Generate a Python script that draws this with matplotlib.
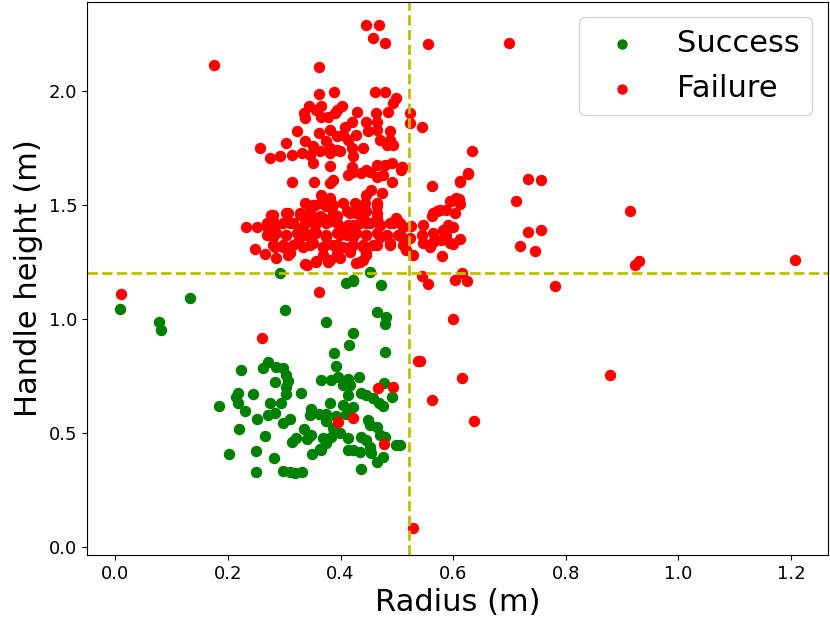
import numpy as np
import matplotlib
matplotlib.use('Agg')
import matplotlib.pyplot as plt

# thresholds drawn as dashed guide lines
RADIUS_LIMIT = 0.522
HEIGHT_LIMIT = 1.20

# (radius, handle height)
success_points = [
    (0.008, 1.042), (0.077, 0.988), (0.081, 0.950), (0.132, 1.091),
    (0.292, 1.200), (0.453, 1.207), (0.422, 1.171), (0.410, 1.157), (0.422, 1.167),
    (0.472, 1.149), (0.302, 1.040), (0.374, 0.985), (0.464, 1.032), (0.480, 1.006),
    (0.479, 0.977), (0.422, 0.937), (0.415, 0.886), (0.389, 0.852), (0.479, 0.855),
    (0.392, 0.795), (0.223, 0.776), (0.271, 0.813), (0.263, 0.786), (0.286, 0.791),
    (0.298, 0.784), (0.304, 0.754), (0.307, 0.728), (0.283, 0.725), (0.303, 0.700),
    (0.303, 0.671), (0.295, 0.630), (0.274, 0.630), (0.271, 0.579), (0.283, 0.586),
    (0.329, 0.674), (0.218, 0.674), (0.215, 0.659), (0.218, 0.630), (0.230, 0.596),
    (0.244, 0.671), (0.184, 0.618), (0.252, 0.560), (0.220, 0.519), (0.297, 0.545),
    (0.310, 0.561), (0.266, 0.487), (0.202, 0.409), (0.250, 0.421), (0.282, 0.389),
    (0.250, 0.328), (0.298, 0.333), (0.310, 0.328), (0.319, 0.326), (0.331, 0.328),
    (0.313, 0.462), (0.321, 0.477), (0.335, 0.516), (0.340, 0.472), (0.347, 0.491),
    (0.350, 0.408), (0.364, 0.428), (0.347, 0.604), (0.345, 0.579), (0.366, 0.732),
    (0.384, 0.732), (0.396, 0.744), (0.413, 0.735), (0.433, 0.744), (0.405, 0.711),
    (0.417, 0.711), (0.413, 0.667), (0.437, 0.674), (0.446, 0.667), (0.458, 0.652),
    (0.381, 0.630), (0.405, 0.623), (0.422, 0.613), (0.409, 0.583), (0.362, 0.583),
    (0.375, 0.583), (0.392, 0.575), (0.375, 0.550), (0.468, 0.630), (0.476, 0.618),
    (0.492, 0.659), (0.448, 0.557), (0.452, 0.535), (0.464, 0.528), (0.470, 0.491),
    (0.479, 0.484), (0.387, 0.521), (0.399, 0.499), (0.384, 0.484), (0.369, 0.477),
    (0.375, 0.455), (0.366, 0.425), (0.413, 0.477), (0.413, 0.425), (0.422, 0.425),
    (0.434, 0.418), (0.437, 0.484), (0.446, 0.469), (0.452, 0.440), (0.455, 0.414),
    (0.464, 0.374), (0.476, 0.396), (0.499, 0.447), (0.436, 0.342), (0.478, 0.718),
    (0.505, 0.447),
]

failure_points = [
    # outliers
    (0.011, 1.110), (0.175, 2.114), (0.362, 1.120), (0.261, 0.918), (0.538, 0.817),
    (0.467, 0.696), (0.493, 0.703), (0.422, 0.564), (0.396, 0.547), (0.477, 0.450),
    (0.446, 2.289), (0.468, 2.289), (0.458, 2.231), (0.479, 2.209), (0.555, 2.206),
    (0.699, 2.211), (0.362, 2.104), (0.600, 0.999), (0.542, 0.816), (0.615, 0.741),
    (0.878, 0.754), (0.562, 0.645), (0.637, 0.553), (0.528, 0.082), (0.915, 1.475),
    (0.923, 1.237), (0.930, 1.254), (1.208, 1.259), (0.781, 1.146),
    # right of the radius line
    (0.523, 1.902), (0.523, 1.858), (0.545, 1.841), (0.634, 1.737), (0.510, 1.665),
    (0.626, 1.639), (0.612, 1.605), (0.563, 1.583), (0.733, 1.613), (0.756, 1.610),
    (0.711, 1.515), (0.597, 1.519), (0.611, 1.525), (0.612, 1.503), (0.603, 1.463),
    (0.588, 1.478), (0.571, 1.471), (0.562, 1.452), (0.547, 1.412), (0.591, 1.412),
    (0.600, 1.402), (0.544, 1.368), (0.547, 1.332), (0.564, 1.376), (0.564, 1.339),
    (0.559, 1.317), (0.579, 1.346), (0.588, 1.368), (0.594, 1.332), (0.599, 1.329),
    (0.612, 1.350), (0.582, 1.390), (0.580, 1.276), (0.529, 1.279), (0.505, 1.420),
    (0.526, 1.408), (0.511, 1.354), (0.523, 1.354), (0.514, 1.317), (0.733, 1.380),
    (0.756, 1.390), (0.718, 1.320), (0.745, 1.297), (0.544, 1.186), (0.556, 1.154),
    (0.603, 1.171), (0.615, 1.200), (0.624, 1.168), (0.627, 1.636), (0.612, 1.602),
    (0.564, 1.463), (0.576, 1.478), (0.594, 1.515), (0.606, 1.529),
    # upper cluster
    (0.362, 1.987), (0.389, 1.994), (0.462, 1.994), (0.479, 1.994), (0.499, 1.967),
    (0.493, 1.946), (0.344, 1.934), (0.366, 1.934), (0.402, 1.934), (0.335, 1.902),
    (0.337, 1.880), (0.357, 1.917), (0.366, 1.887), (0.378, 1.887), (0.390, 1.902),
    (0.394, 1.917), (0.430, 1.906), (0.463, 1.902), (0.485, 1.909), (0.322, 1.822),
    (0.304, 1.771), (0.257, 1.749), (0.337, 1.778), (0.362, 1.814), (0.351, 1.756),
    (0.381, 1.829), (0.393, 1.800), (0.375, 1.778), (0.381, 1.749), (0.393, 1.741),
    (0.408, 1.843), (0.420, 1.865), (0.405, 1.807), (0.413, 1.785), (0.428, 1.807),
    (0.446, 1.865), (0.464, 1.865), (0.449, 1.822), (0.464, 1.829), (0.470, 1.785),
    (0.488, 1.822), (0.488, 1.785), (0.482, 1.763), (0.493, 1.763),
    (0.274, 1.705), (0.292, 1.712), (0.313, 1.719), (0.331, 1.727), (0.345, 1.719),
    (0.363, 1.734), (0.381, 1.727), (0.399, 1.734), (0.420, 1.749), (0.422, 1.712),
    (0.440, 1.749), (0.351, 1.683), (0.381, 1.671), (0.420, 1.668), (0.446, 1.654),
    (0.464, 1.675), (0.479, 1.675), (0.491, 1.683), (0.509, 1.668),
    # lower cluster
    (0.313, 1.598), (0.353, 1.598), (0.381, 1.595), (0.387, 1.610), (0.413, 1.632),
    (0.422, 1.646), (0.437, 1.639), (0.452, 1.646), (0.464, 1.624), (0.476, 1.632),
    (0.491, 1.598), (0.508, 1.653), (0.366, 1.544), (0.375, 1.515), (0.446, 1.544),
    (0.455, 1.566), (0.473, 1.551), (0.337, 1.507), (0.351, 1.500), (0.366, 1.507),
    (0.387, 1.500), (0.405, 1.507), (0.425, 1.507), (0.440, 1.493), (0.464, 1.507),
    (0.280, 1.456), (0.307, 1.464), (0.328, 1.464), (0.345, 1.471), (0.363, 1.449),
    (0.387, 1.464), (0.411, 1.471), (0.428, 1.464), (0.446, 1.471), (0.464, 1.464),
    (0.233, 1.405), (0.251, 1.402), (0.269, 1.405), (0.280, 1.427), (0.298, 1.420),
    (0.316, 1.420), (0.337, 1.420), (0.354, 1.412), (0.375, 1.420), (0.393, 1.420),
    (0.413, 1.412), (0.434, 1.420), (0.452, 1.420), (0.470, 1.412), (0.488, 1.420),
    (0.500, 1.434), (0.511, 1.405), (0.269, 1.368), (0.286, 1.376), (0.304, 1.368),
    (0.322, 1.376), (0.340, 1.368), (0.357, 1.376), (0.375, 1.368), (0.393, 1.376),
    (0.411, 1.368), (0.428, 1.376), (0.446, 1.368), (0.464, 1.376), (0.482, 1.368),
    (0.502, 1.368), (0.283, 1.317), (0.298, 1.325), (0.316, 1.325), (0.334, 1.317),
    (0.351, 1.332), (0.369, 1.317), (0.387, 1.325), (0.405, 1.317), (0.422, 1.325),
    (0.440, 1.317), (0.458, 1.325), (0.488, 1.325), (0.511, 1.325), (0.248, 1.307),
    (0.266, 1.285), (0.286, 1.266), (0.307, 1.281), (0.340, 1.237), (0.357, 1.251),
    (0.381, 1.259), (0.399, 1.266), (0.434, 1.251), (0.446, 1.281), (0.517, 1.303),
    # dense band, second reading
    (0.381, 1.529), (0.354, 1.500), (0.375, 1.493), (0.443, 1.507), (0.464, 1.493),
    (0.277, 1.456), (0.304, 1.464), (0.328, 1.456), (0.348, 1.449), (0.369, 1.442),
    (0.393, 1.449), (0.417, 1.464), (0.440, 1.449), (0.464, 1.442), (0.499, 1.442),
    (0.269, 1.420), (0.286, 1.412), (0.310, 1.420), (0.334, 1.405), (0.357, 1.420),
    (0.381, 1.427), (0.401, 1.405), (0.422, 1.412), (0.446, 1.420), (0.470, 1.412),
    (0.493, 1.420), (0.280, 1.361), (0.304, 1.368), (0.328, 1.361), (0.351, 1.376),
    (0.375, 1.361), (0.399, 1.368), (0.422, 1.361), (0.446, 1.368), (0.470, 1.361),
    (0.280, 1.325), (0.298, 1.317), (0.322, 1.332), (0.345, 1.325), (0.369, 1.317),
    (0.393, 1.325), (0.417, 1.317), (0.440, 1.325), (0.464, 1.325), (0.310, 1.288),
    (0.369, 1.281), (0.393, 1.288), (0.417, 1.295), (0.446, 1.288), (0.488, 1.332),
    (0.337, 1.241), (0.356, 1.254), (0.378, 1.251), (0.428, 1.244), (0.440, 1.259),
]

success = np.array(success_points)
failure = np.array(failure_points)

fig = plt.figure(figsize=(8.3, 6.27), dpi=100)
ax = fig.add_axes([0.105, 0.115, 0.892, 0.882])

ax.scatter(success[:, 0], success[:, 1], c='g', s=52, label='Success')
ax.scatter(failure[:, 0], failure[:, 1], c='r', s=52, label='Failure')

ax.axvline(RADIUS_LIMIT, color='y', linestyle='--', linewidth=2)
ax.axhline(HEIGHT_LIMIT, color='y', linestyle='--', linewidth=2)

ax.set_xlim(-0.05, 1.265)
ax.set_ylim(-0.035, 2.39)
ax.set_xticks([0.0, 0.2, 0.4, 0.6, 0.8, 1.0, 1.2])
ax.set_yticks([0.0, 0.5, 1.0, 1.5, 2.0])
ax.tick_params(labelsize=13)
ax.set_xlabel('Radius (m)', fontsize=22)
ax.set_ylabel('Handle height (m)', fontsize=22)
ax.legend(loc='upper right', fontsize=22, markerscale=0.9)

fig.savefig('out.png')
